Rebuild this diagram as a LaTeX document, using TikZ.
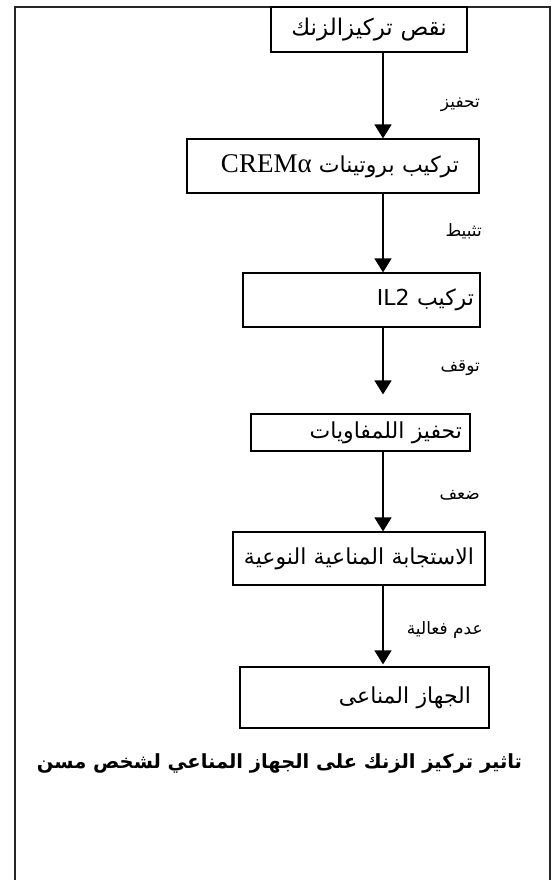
\documentclass[tikz,border=0pt]{standalone}
\usepackage{fontspec}
\usetikzlibrary{arrows.meta, math}
\TeXXeTstate=1
\newfontfamily\arabicfont[Script=Arabic]{DejaVu Sans}
\newfontfamily\latinserif{Liberation Serif}

\begin{document}
\begin{tikzpicture}[x=1pt, y=-1pt,
  box/.style={draw, line width=1.2pt, inner ysep=0pt, align=right, font=\arabicfont\fontsize{22}{26}\selectfont},
  lbl/.style={anchor=east, inner sep=0pt, font=\arabicfont\fontsize{17}{20}\selectfont},
  arr/.style={-{Triangle[width=17pt,length=14pt]}, line width=1.6pt}]
\tikzmath{
\ax=383;
}
\useasboundingbox (0,0) rectangle (554,880);

% frame
\draw[line width=1.6pt, black!85] (15,890) -- (15,7) -- (550,7) -- (550,890);

\coordinate (A) at (\ax,0);

% boxes
\node[box, minimum width=196pt, minimum height=45pt, inner xsep=6pt, text width=184pt, align=center, font=\arabicfont\fontsize{23}{26}\selectfont] (B1) at (369,29.5) {\beginR نقص تركيزالزنك\endR};
\node[box, minimum width=292pt, minimum height=54pt, inner xsep=20pt, text width=252pt] (B2) at (333,166) {\beginR تركيب بروتينات \beginL{\latinserif\fontsize{27}{30}\selectfont CREMα}\endL\endR};
\node[box, minimum width=237pt, minimum height=54pt, inner xsep=6pt, text width=225pt] (B3) at (361.5,300) {\beginR تركيب \beginL IL2\endL\endR};
\node[box, minimum width=219pt, minimum height=37pt, inner xsep=8pt, text width=203pt] (B4) at (360.5,432.5) {\beginR تحفيز اللمفاويات\endR};
\node[box, minimum width=252pt, minimum height=53pt, inner xsep=4pt, text width=244pt, align=center] (B5) at (359,558.5) {\beginR الاستجابة المناعية النوعية\endR};
\node[box, minimum width=249pt, minimum height=61pt, inner xsep=18pt, text width=213pt] (B6) at (364.5,697.5) {\beginR الجهاز المناعى\endR};

% arrows
\draw[arr] (B1.south -| A) -- (B2.north -| A);
\draw[arr] (B2.south -| A) -- (B3.north -| A);
\draw[arr, shorten >=19pt] (B3.south -| A) -- (B4.north -| A);
\draw[arr] (B4.south -| A) -- (B5.north -| A);
\draw[arr, shorten >=2pt] (B5.south -| A) -- (B6.north -| A);

% labels
\node[lbl] (L1) at (480,105) {\beginR تحفيز\endR};
\node[lbl] (L2) at (482,231) {\beginR تثبيط\endR};
\node[lbl] (L3) at (480,368) {\beginR توقف\endR};
\node[lbl] (L4) at (480,495) {\beginR ضعف\endR};
\node[lbl] (L5) at (483,630) {\beginR عدم فعالية\endR};

\node[font=\arabicfont\bfseries\fontsize{19.5}{23}\selectfont] (T) at (279.5,763) {\beginR تاثير تركيز الزنك على الجهاز المناعي لشخص مسن\endR};
\end{tikzpicture}
\end{document}
